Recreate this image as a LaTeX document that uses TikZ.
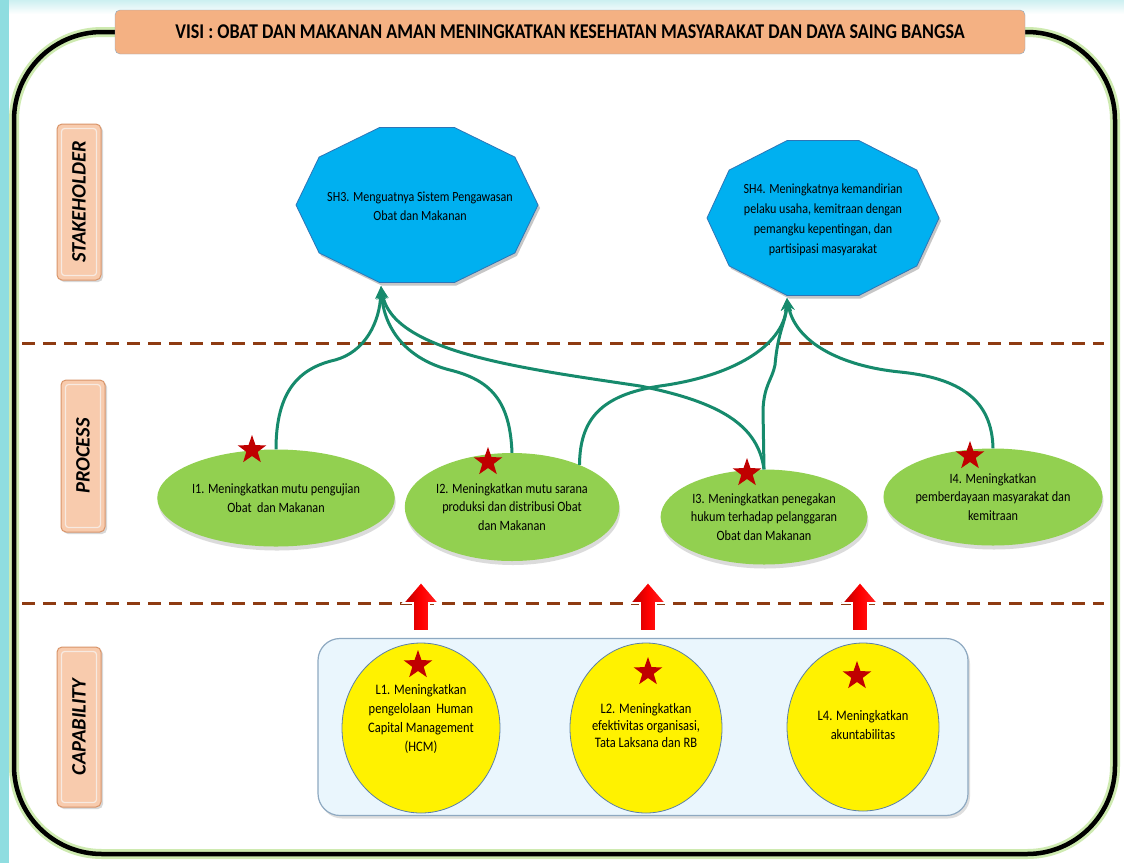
\documentclass[tikz,border=0pt]{standalone}
\usepackage{fontspec}
\setmainfont{Carlito}
\newfontfamily\narrowfont[FakeStretch=0.86]{Carlito}
\usetikzlibrary{arrows.meta,calc,positioning,shapes.geometric,shadows}
\definecolor{visibg}{HTML}{F4B183}
\definecolor{tagbg}{HTML}{F8CBAD}
\definecolor{tagline}{HTML}{D9956A}
\definecolor{shblue}{HTML}{00B0F0}
\definecolor{shline}{HTML}{2E75B6}
\definecolor{leaf}{HTML}{92D050}
\definecolor{wirecol}{HTML}{168A6C}
\definecolor{lanecol}{HTML}{8E3B12}
\definecolor{starcol}{HTML}{C00000}
\definecolor{capbg}{HTML}{EAF6FD}
\definecolor{capline}{HTML}{8EA9C1}
\definecolor{ellline}{HTML}{5B7FA8}
\definecolor{sidecyan}{HTML}{8FDDE0}
\tikzset{
	outerframe/.style={line width=4.5pt, rounded corners=88pt},
	frameglow/.style={line width=10pt, draw=leaf!45, rounded corners=88pt},
	visi/.style={draw=capline, fill=visibg, rounded corners=5pt,
		minimum width=910pt, minimum height=44pt,
		font=\narrowfont\fontsize{21}{24}\selectfont\bfseries},
	lanetag/.style={draw=tagline, fill=tagbg, rounded corners=5pt, rotate=90,
		minimum width=#1, minimum height=44pt, line width=1pt,
		drop shadow={shadow xshift=2pt, shadow yshift=-2pt, fill=gray!60},
		font=\fontsize{20.5}{24}\selectfont\bfseries\itshape},
	lanebevel/.style={draw=white!80!tagline, line width=1.2pt, rounded corners=3pt},
	lane/.style={draw=lanecol, line width=3pt, dash pattern=on 13pt off 8pt},
	decagon/.style={fill=shblue, draw=shline, line width=0.8pt},
	decashadow/.style={fill=gray!45},
	shtext/.style={align=center, font=\narrowfont\fontsize{14}{19}\selectfont},
	proc/.style={ellipse, fill=leaf, inner sep=0pt, align=center,
		drop shadow={shadow xshift=1pt, shadow yshift=-4pt, fill=gray!55},
		font=\narrowfont\fontsize{14.2}{18.5}\selectfont},
	capcircle/.style={ellipse, fill=yellow, draw=ellline, line width=0.8pt, inner sep=0pt},
	captext/.style={align=center, font=\narrowfont\fontsize{14.5}{19}\selectfont},
	capbox/.style={draw=capline, fill=capbg, line width=1.2pt, rounded corners=22pt,
		drop shadow={shadow xshift=2pt, shadow yshift=-3pt, fill=gray!50}},
	redstar/.style={star, star points=5, star point ratio=2.5, fill=starcol,
		minimum size=30pt, inner sep=0pt},
	blockarrow/.style={draw=white, line width=1.8pt, left color=red!70!black,
		right color=red!85, middle color=red, line join=miter},
	wire/.style={draw=wirecol, line width=3pt, -{Stealth[length=13pt,width=11pt]}}
}

\begin{document}
\begin{tikzpicture}[x=1pt, y=-1pt]
	\useasboundingbox (0,0) rectangle (1124,863);
	\fill[white] (0,0) rectangle (1124,863);
	\shade[top color=sidecyan!45, bottom color=white] (0,0) rectangle (1124,14);
	\fill[sidecyan] (0,0) rectangle (9,863);

	% outer frame
	\draw[frameglow] (14,32) rectangle (1115,854);
	\draw[outerframe] (14,32) rectangle (1115,854);
	\node[visi] (visi) at (570,32) {VISI : OBAT DAN MAKANAN AMAN MENINGKATKAN KESEHATAN MASYARAKAT DAN DAYA SAING BANGSA};

	% lanes
	\draw[lane] (22,343) -- (1104,343);
	\draw[lane] (22,603) -- (1104,603);
	\node[lanetag=156pt] (stk) at (79,202) {STAKEHOLDER};
	\node[lanetag=152pt] (prc) at (83,456) {PROCESS};
	\node[lanetag=160pt] (cpb) at (79,727) {CAPABILITY};
	\foreach \t in {stk,prc,cpb}
		\draw[lanebevel] ($(\t.south west)+(-5,-5)$) rectangle ($(\t.north east)+(5,5)$);

	% stakeholder
	\foreach \cx/\cy/\a in {417/205/121, 823/218/116} {
		\fill[decashadow] plot[samples at={0,36,...,324}] ({\cx+2+\a*cos(\x)},{\cy+3+81.5*sin(\x)}) -- cycle;
		\filldraw[decagon] plot[samples at={0,36,...,324}] ({\cx+\a*cos(\x)},{\cy+81.5*sin(\x)}) -- cycle;
	}
	\node[shtext] (sh3) at (420,206) {SH3. Menguatnya Sistem Pengawasan\\Obat dan Makanan};
	\node[shtext, font=\narrowfont\fontsize{14}{20}\selectfont] (sh4) at (823,220) {SH4. Meningkatnya kemandirian\\pelaku usaha, kemitraan dengan\\pemangku kepentingan, dan\\partisipasi masyarakat};
	\coordinate (sh3tip) at (381,286);
	\coordinate (sh4tip) at (787,298);

	% process
	\node[proc, minimum width=225pt, minimum height=97pt] (i1) at (276,498) {I1. Meningkatkan mutu pengujian\\Obat \ dan Makanan};
	\node[proc, minimum width=204pt, minimum height=108pt] (i2) at (512,507) {I2. Meningkatkan mutu sarana\\produksi dan distribusi Obat\\dan Makanan};
	\node[proc, minimum width=198pt, minimum height=95pt] (i3) at (764,517) {I3. Meningkatkan penegakan\\hukum terhadap pelanggaran\\Obat dan Makanan};
	\node[proc, minimum width=200pt, minimum height=97pt] (i4) at (993,497) {I4. Meningkatkan\\pemberdayaan masyarakat dan\\kemitraan};

	\draw[wire] (i1.north) .. controls (276,390) and (300,368) .. (335,360)
		.. controls (365,352) and (380,322) .. (sh3tip);
	\draw[wire] (i2.north) .. controls (510,400) and (490,380) .. (450,370)
		.. controls (410,360) and (384,332) .. (sh3tip);
	\draw[wire] (i3.north) .. controls (758,425) and (720,402) .. (640,386)
		.. controls (520,368) and (392,352) .. (sh3tip);
	\draw[wire] (i2.32) .. controls (580,420) and (600,395) .. (660,386)
		.. controls (740,375) and (785,342) .. (sh4tip);
	\draw[wire] (i3.north) -- (763,410) .. controls (764,385) and (772,380) .. (775,365)
		.. controls (778,330) and (786,322) .. (sh4tip);
	\draw[wire] (i4.north) .. controls (992,400) and (960,378) .. (900,372)
		.. controls (840,366) and (795,342) .. (sh4tip);

	\node[redstar] (s1) at (252,450) {};
	\node[redstar] (s2) at (488,462) {};
	\node[redstar] (s3) at (747,473) {};
	\node[redstar] (s4) at (970,456) {};

	% capability
	\node[capbox, minimum width=650pt, minimum height=177pt] (caps) at (643,727) {};
	\node[capcircle, minimum width=158pt, minimum height=170pt] (l1) at (421,728) {};
	\node[capcircle, minimum width=152pt, minimum height=170pt] (l2) at (646,728) {};
	\node[capcircle, minimum width=152pt, minimum height=168pt] (l4) at (863,727) {};
	\node[captext] (l1txt) at ($(l1)+(0,-9)$) {L1. Meningkatkan\\pengelolaan \ Human\\Capital Management\\(HCM)};
	\node[captext, font=\narrowfont\fontsize{14.5}{17}\selectfont] (l2txt) at ($(l2)+(0,-2)$) {L2. Meningkatkan\\efektivitas organisasi,\\Tata Laksana dan RB};
	\node[captext] (l4txt) at ($(l4)+(0,-2)$) {L4. Meningkatkan\\akuntabilitas};
	\node[redstar] (t1) at (418,665) {};
	\node[redstar] (t2) at (648,672) {};
	\node[redstar] (t4) at (857,676) {};

	% up arrows
	\foreach \ax in {421,648,860}
		\draw[blockarrow] (\ax-8,631) -- (\ax-8,603) -- (\ax-18,603) -- (\ax,582)
			-- (\ax+18,603) -- (\ax+8,603) -- (\ax+8,631) -- cycle;
\end{tikzpicture}
\end{document}
